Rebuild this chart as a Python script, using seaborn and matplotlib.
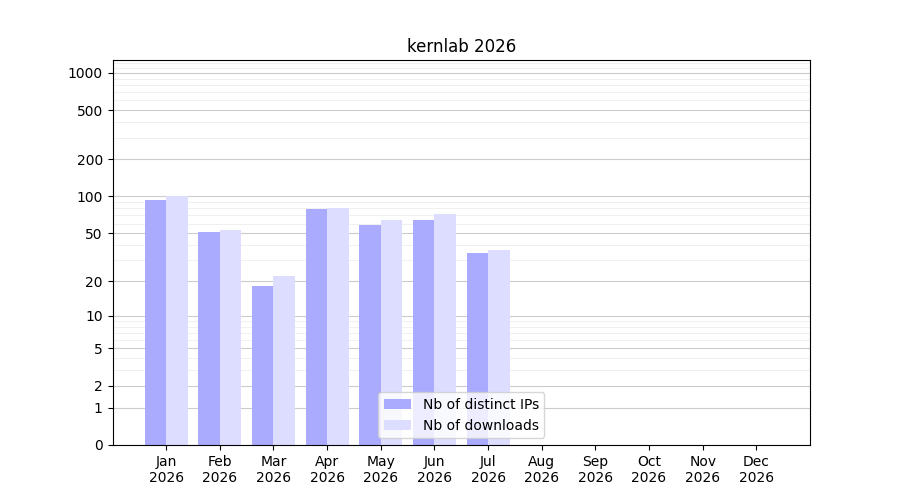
import numpy as np
import pandas as pd
import seaborn as sns
import matplotlib
matplotlib.use("Agg")
import matplotlib.pyplot as plt

months = ["Jan", "Feb", "Mar", "Apr", "May", "Jun", "Jul", "Aug", "Sep", "Oct", "Nov", "Dec"]
year = "2026"
ips = [94, 51, 18, 79, 58, 64, 34, 0, 0, 0, 0, 0]
downloads = [101, 53, 22, 81, 64, 72, 36, 0, 0, 0, 0, 0]

labels = [f"{m}\n{year}" for m in months]
df = pd.DataFrame({
    "month": labels * 2,
    "value": ips + downloads,
    "series": ["Nb of distinct IPs"] * 12 + ["Nb of downloads"] * 12,
})

fig, ax = plt.subplots(figsize=(9, 5), dpi=100)
sns.barplot(data=df, x="month", y="value", hue="series", order=labels,
            palette=["#aaaaff", "#ddddff"], saturation=1, width=0.8, ax=ax)

ax.set_yscale("function", functions=(lambda x: np.log10(1 + np.maximum(x, 0)),
                                     lambda y: 10 ** y - 1))
ax.set_ylim(0, 1270)
ax.set_xlim(-1, 12)
ticks = [0, 1, 2, 5, 10, 20, 50, 100, 200, 500, 1000]
ax.set_yticks(ticks)
ax.set_yticklabels([str(t) for t in ticks])
minor = [v * d for d in (1, 10, 100) for v in range(2, 10)] + [1000 + 100 * k for k in range(1, 3)]
ax.set_yticks(minor, minor=True)
ax.tick_params(axis="y", which="minor", length=0)
ax.grid(axis="y", which="major", color="#cccccc", linewidth=0.8)
ax.grid(axis="y", which="minor", color="#eeeeee", linewidth=0.6)
ax.set_axisbelow(True)
ax.set_xlabel("")
ax.set_ylabel("")
ax.set_title(f"kernlab {year}")
ax.legend(loc="lower center", title=None)
plt.savefig("out.png")
